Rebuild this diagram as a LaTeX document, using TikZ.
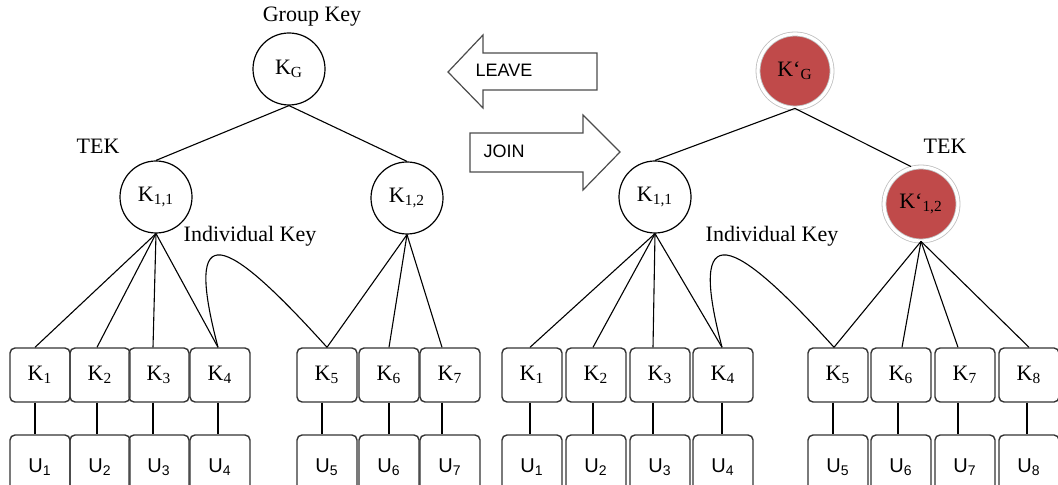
\documentclass[tikz,border=0pt]{standalone}
\usepackage{fontspec}
\setmainfont{Liberation Serif}
\setsansfont{Liberation Sans}
\usepackage{tikz}
\usetikzlibrary{positioning, calc}

\definecolor{keyred}{RGB}{192,74,74}
\tikzset{
    keynode/.style={circle, draw, line width=0.6pt, minimum size=36pt, inner sep=0pt},
    newkey/.style={circle, fill=keyred, draw=black!25, double=white, double distance=1.6pt, line width=0.4pt, minimum size=37pt, inner sep=0pt},
    leafkey/.style={draw=black!80, rounded corners=2.5pt, line width=0.7pt, minimum width=30pt, minimum height=27pt, inner sep=0pt},
    userbox/.style={leafkey, minimum height=32pt, font=\fontsize{10}{12}\sffamily},
    fatarrow/.style={draw=black!70, line width=0.6pt, fill=white},
    link/.style={line width=0.55pt}
}

\begin{document}
\begin{tikzpicture}[x=0.5pt, y=-0.5pt, font=\fontsize{11}{13}\selectfont]
    \useasboundingbox (0,0) rectangle (1058,485);
    \clip (0,0) rectangle (1058,485);

    % left tree
    \node (gk) at (312,17) {Group Key};
    \node[keynode] (kg) at (289,69) {K\textsubscript{G}};
    \node (tekl) at (98,146) {TEK};
    \node[keynode] (k11) at (156,197) {K\textsubscript{1,1}};
    \node[keynode] (k12) at (407,198) {K\textsubscript{1,2}};
    \node (indl) at (250,236) {Individual Key};

    \node[leafkey] (la1) at (40,375) {K\textsubscript{1}};
    \node[leafkey] (la2) at (100,375) {K\textsubscript{2}};
    \node[leafkey] (la3) at (159,375) {K\textsubscript{3}};
    \node[leafkey] (la4) at (220,375) {K\textsubscript{4}};
    \node[leafkey] (la5) at (327,375) {K\textsubscript{5}};
    \node[leafkey] (la6) at (389,375) {K\textsubscript{6}};
    \node[leafkey] (la7) at (450,375) {K\textsubscript{7}};

    \node[userbox] (ua1) at (40,467) {U\textsubscript{1}};
    \node[userbox] (ua2) at (100,467) {U\textsubscript{2}};
    \node[userbox] (ua3) at (159,467) {U\textsubscript{3}};
    \node[userbox] (ua4) at (220,467) {U\textsubscript{4}};
    \node[userbox] (ua5) at (327,467) {U\textsubscript{5}};
    \node[userbox] (ua6) at (389,467) {U\textsubscript{6}};
    \node[userbox] (ua7) at (450,467) {U\textsubscript{7}};

    \draw[link] (kg.south) -- (k11.north);
    \draw[link] (kg.south) -- (k12.north);
    \draw[link] (k11.south) -- ([xshift=-2.5pt]la1.north);
    \draw[link] (k11.south) -- ([xshift=-1.5pt]la2.north);
    \draw[link] (k11.south) -- ([xshift=-3pt]la3.north);
    \draw[link] (k11.south) -- ([xshift=-1pt]la4.north);
    \draw[link] ([xshift=-1pt]la4.north) .. controls +(-35,-133) and +(-102,-113) .. (la5.north);
    \draw[link] (k12.south) -- (la5.north);
    \draw[link] (k12.south) -- (la6.north);
    \draw[link] (k12.south) -- ([xshift=-4pt]la7.north);
    \draw[link] ([xshift=-2.5pt]la1.south) -- ([xshift=-2.5pt]ua1.north);
    \draw[link] ([xshift=-1.5pt]la2.south) -- ([xshift=-1.5pt]ua2.north);
    \draw[link] ([xshift=-3pt]la3.south) -- ([xshift=-3pt]ua3.north);
    \draw[link] ([xshift=-1pt]la4.south) -- ([xshift=-1pt]ua4.north);
    \draw[link] ([xshift=-2.5pt]la5.south) -- ([xshift=-2.5pt]ua5.north);
    \draw[link] (la6.south) -- (ua6.north);
    \draw[link] ([xshift=-4pt]la7.south) -- ([xshift=-4pt]ua7.north);

    % leave / join arrows
    \draw[fatarrow] (448,72) -- (483,35) -- (483,53) -- (597,53) -- (597,90) -- (483,90) -- (483,108) -- cycle;
    \node[font=\fontsize{9}{11}\sffamily] (leave) at (504,70) {LEAVE};
    \draw[fatarrow] (470,133) -- (583,133) -- (583,115) -- (620,152) -- (583,190) -- (583,172) -- (470,172) -- cycle;
    \node[font=\fontsize{9}{11}\sffamily] (join) at (504,151) {JOIN};

    % right tree
    \node[newkey] (nkg) at (795,71) {K`\textsubscript{G}};
    \node[keynode] (rk11) at (655,197) {K\textsubscript{1,1}};
    \node (tekr) at (945,146) {TEK};
    \node[newkey] (nk12) at (921,204) {K`\textsubscript{1,2}};
    \node (indr) at (772,236) {Individual Key};

    \node[leafkey] (lb1) at (532,375) {K\textsubscript{1}};
    \node[leafkey] (lb2) at (596,375) {K\textsubscript{2}};
    \node[leafkey] (lb3) at (660,375) {K\textsubscript{3}};
    \node[leafkey] (lb4) at (723,375) {K\textsubscript{4}};
    \node[leafkey] (lb5) at (838,375) {K\textsubscript{5}};
    \node[leafkey] (lb6) at (901,375) {K\textsubscript{6}};
    \node[leafkey] (lb7) at (965,375) {K\textsubscript{7}};
    \node[leafkey] (lb8) at (1029,375) {K\textsubscript{8}};

    \node[userbox] (ub1) at (532,467) {U\textsubscript{1}};
    \node[userbox] (ub2) at (596,467) {U\textsubscript{2}};
    \node[userbox] (ub3) at (660,467) {U\textsubscript{3}};
    \node[userbox] (ub4) at (723,467) {U\textsubscript{4}};
    \node[userbox] (ub5) at (838,467) {U\textsubscript{5}};
    \node[userbox] (ub6) at (901,467) {U\textsubscript{6}};
    \node[userbox] (ub7) at (965,467) {U\textsubscript{7}};
    \node[userbox] (ub8) at (1029,467) {U\textsubscript{8}};

    \draw[link] (nkg.south) -- (rk11.north);
    \draw[link] (nkg.south) -- ([xshift=-5pt]nk12.north);
    \draw[link] (rk11.south) -- ([xshift=-1pt]lb1.north);
    \draw[link] (rk11.south) -- ([xshift=-1.5pt]lb2.north);
    \draw[link] (rk11.south) -- ([xshift=-3.5pt]lb3.north);
    \draw[link] (rk11.south) -- ([xshift=-0.5pt]lb4.north);
    \draw[link] ([xshift=-0.5pt]lb4.north) .. controls +(-35,-133) and +(-102,-113) .. ([xshift=-2pt]lb5.north);
    \draw[link] (nk12.south) -- ([xshift=-2pt]lb5.north);
    \draw[link] (nk12.south) -- ([xshift=0.5pt]lb6.north);
    \draw[link] (nk12.south) -- ([xshift=-3.5pt]lb7.north);
    \draw[link] (nk12.south) -- (lb8.north);
    \draw[link] ([xshift=-1pt]lb1.south) -- ([xshift=-1pt]ub1.north);
    \draw[link] ([xshift=-1.5pt]lb2.south) -- ([xshift=-1.5pt]ub2.north);
    \draw[link] ([xshift=-3.5pt]lb3.south) -- ([xshift=-3.5pt]ub3.north);
    \draw[link] ([xshift=-0.5pt]lb4.south) -- ([xshift=-0.5pt]ub4.north);
    \draw[link] ([xshift=-2.5pt]lb5.south) -- ([xshift=-2.5pt]ub5.north);
    \draw[link] ([xshift=-1.5pt]lb6.south) -- ([xshift=-1.5pt]ub6.north);
    \draw[link] ([xshift=-3.5pt]lb7.south) -- ([xshift=-3.5pt]ub7.north);
    \draw[link] ([xshift=-1pt]lb8.south) -- ([xshift=-1pt]ub8.north);
\end{tikzpicture}
\end{document}
